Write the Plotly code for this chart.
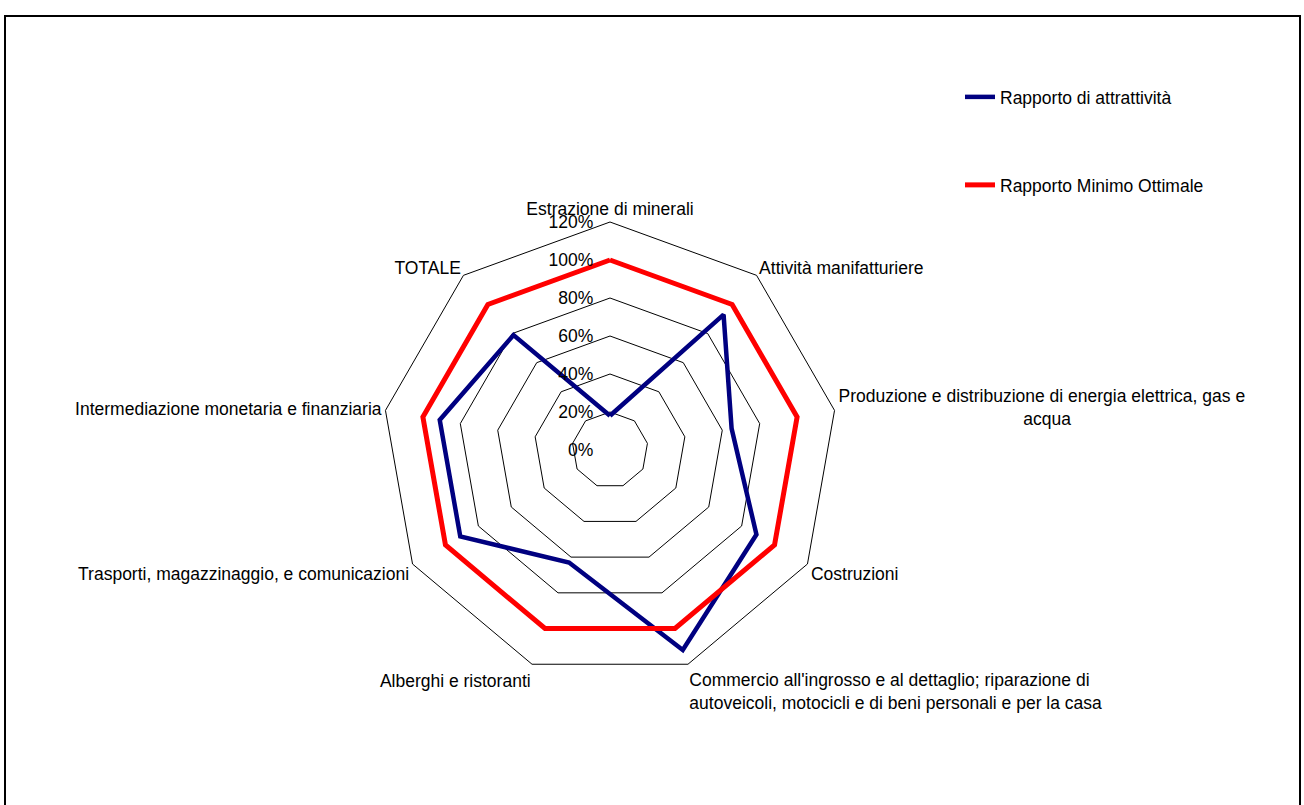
import plotly.graph_objects as go

NB = "\u00a0"
categories = [
    "Estrazione di minerali",
    "Attività manifatturiere",
    "Produzione e distribuzione di energia elettrica, gas e<br>" + NB * 38 + "acqua",
    "Costruzioni",
    "Commercio all'ingrosso e al dettaglio; riparazione di<br>autoveicoli, motocicli e di beni personali e per la casa",
    "Alberghi e ristoranti",
    "Trasporti, magazzinaggio, e comunicazioni",
    "Intermediazione monetaria e finanziaria",
    "TOTALE",
]
attrattivita = [18, 93, 65, 89, 112, 63, 91, 91, 79]
minimo_ottimale = [100, 100, 100, 100, 100, 100, 100, 100, 100]
series_names = ["Rapporto di attrattività", "Rapporto Minimo Ottimale"]
radial_ticks = [0, 20, 40, 60, 80, 100, 120]

W, H = 1304, 805
FONT = "Liberation Sans, Arial, sans-serif"
FS = 17.5

fig = go.Figure()
fig.add_trace(go.Scatterpolar(
    r=attrattivita + attrattivita[:1],
    theta=categories + categories[:1],
    mode="lines",
    line=dict(color="#000080", width=4.5),
    name=series_names[0],
    legend="legend",
    showlegend=True,
))
fig.add_trace(go.Scatterpolar(
    r=minimo_ottimale + minimo_ottimale[:1],
    theta=categories + categories[:1],
    mode="lines",
    line=dict(color="#FF0000", width=5),
    name=series_names[1],
    legend="legend2",
    showlegend=True,
))

cx, cy, R = 610, 450, 228
fig.update_layout(
    width=W, height=H,
    margin=dict(l=0, r=0, t=0, b=0),
    showlegend=True,
    paper_bgcolor="white",
    plot_bgcolor="white",
    font=dict(family=FONT, size=FS, color="black"),
    polar=dict(
        domain=dict(x=[(cx - R) / W, (cx + R) / W],
                    y=[(H - cy - R) / H, (H - cy + R) / H]),
        bgcolor="white",
        gridshape="linear",
        angularaxis=dict(
            direction="clockwise", rotation=90,
            categoryorder="array", categoryarray=categories,
            showgrid=False, showline=True, linecolor="black", linewidth=1,
            ticks="", tickfont=dict(family=FONT, size=FS, color="black"),
        ),
        radialaxis=dict(
            range=[0, 120], tickvals=radial_ticks,
            ticktext=[f"{v}%" for v in radial_ticks],
            showline=False, gridcolor="black", gridwidth=1,
            angle=90, tickangle=90, side="counterclockwise",
            ticks="outside", ticklen=10, tickcolor="rgba(0,0,0,0)",
            tickfont=dict(family=FONT, size=FS, color="black"),
        ),
    ),
    legend=dict(x=960 / W, y=1 - 79 / H, xanchor="left", yanchor="top",
                bgcolor="rgba(0,0,0,0)", font=dict(size=FS)),
    legend2=dict(x=960 / W, y=1 - 167 / H, xanchor="left", yanchor="top",
                 bgcolor="rgba(0,0,0,0)", font=dict(size=FS)),
    shapes=[dict(type="rect", xref="paper", yref="paper",
                 x0=5 / W, x1=1300 / W, y0=-0.05, y1=1 - 16 / H,
                 line=dict(color="black", width=2))],
)

fig.write_html("out.html", config={"displayModeBar": False},
               post_script="document.body.style.margin='0';document.body.style.overflow='hidden';")
